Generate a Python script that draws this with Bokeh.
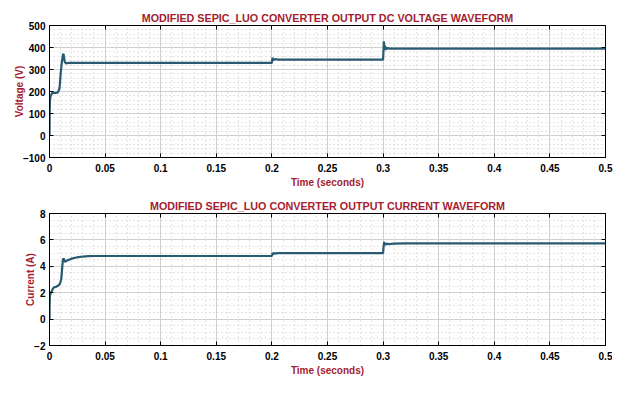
from bokeh.plotting import figure
from bokeh.models import Title, Range1d, FixedTicker, LinearAxis
from bokeh.layouts import column
from bokeh.embed import file_html
from bokeh.resources import INLINE

# ---- data ----
v_time = [0, 0.0002, 0.0005, 0.001, 0.002, 0.003, 0.005, 0.007, 0.008, 0.009,
          0.0095, 0.010, 0.011, 0.012, 0.0125, 0.013, 0.0135, 0.014, 0.015, 0.017,
          0.02, 0.2, 0.2003, 0.2006, 0.201, 0.2015, 0.202, 0.203, 0.205, 0.21,
          0.3, 0.3003, 0.3007, 0.301, 0.3015, 0.302, 0.3025, 0.303, 0.304, 0.306,
          0.31, 0.5]
v_volt = [0, 120, 165, 180, 190, 195, 193, 195, 200, 215,
          240, 280, 330, 365, 372, 360, 340, 332, 328, 330,
          330, 330, 345, 354, 340, 350, 343, 348, 345, 345,
          345, 380, 428, 395, 410, 388, 402, 392, 398, 395,
          395, 395]

i_time = [0, 0.0001, 0.0003, 0.0006, 0.001, 0.002, 0.003, 0.004, 0.006, 0.008,
          0.0095, 0.0105, 0.011, 0.0115, 0.012, 0.0125, 0.013, 0.0135, 0.014, 0.016,
          0.018, 0.02, 0.023, 0.026, 0.03, 0.035, 0.04, 0.05, 0.2, 0.2008,
          0.2015, 0.202, 0.203, 0.205, 0.3, 0.3005, 0.301, 0.3015, 0.302, 0.3025,
          0.303, 0.305, 0.31, 0.32, 0.5]
i_amp = [0, 1.0, 1.7, 1.85, 1.95, 2.1, 2.3, 2.4, 2.45, 2.55,
         2.7, 3.0, 3.4, 4.0, 4.45, 4.6, 4.55, 4.4, 4.35, 4.45,
         4.52, 4.58, 4.65, 4.7, 4.74, 4.77, 4.78, 4.78, 4.78, 5.02,
         4.92, 5.0, 4.96, 5.0, 5.0, 5.55, 5.85, 5.6, 5.75, 5.62,
         5.72, 5.68, 5.72, 5.73, 5.73]

x_ticks = [0, 0.05, 0.1, 0.15, 0.2, 0.25, 0.3, 0.35, 0.4, 0.45, 0.5]
x_tick_labels = {0: "0", 0.05: "0.05", 0.1: "0.1", 0.15: "0.15", 0.2: "0.2", 0.25: "0.25",
                 0.3: "0.3", 0.35: "0.35", 0.4: "0.4", 0.45: "0.45", 0.5: "0.5"}
v_ticks = [-100, 0, 100, 200, 300, 400, 500]
i_ticks = [-2, 0, 2, 4, 6, 8]

titles = ["MODIFIED SEPIC_LUO CONVERTER OUTPUT DC VOLTAGE WAVEFORM",
          "MODIFIED SEPIC_LUO CONVERTER OUTPUT CURRENT WAVEFORM"]
y_labels = ["Voltage (V)", "Current (A)"]
x_label = "Time (seconds)"

RED = "#A51C30"
LINE = "#285A72"
FONT = "Liberation Sans"


def make(tt, yy, ylo, yhi, yticks, ystep_minor, title, ylabel, top, bottom):
    p = figure(frame_width=556, frame_height=132, output_backend="svg", toolbar_location=None,
               x_range=Range1d(0, 0.5), y_range=Range1d(ylo, yhi),
               min_border_left=0, min_border_right=19, min_border_top=top,
               min_border_bottom=bottom)
    p.title = Title(text=title, align="center", text_color=RED, text_font=FONT,
                    text_font_size="10.75px", text_font_style="bold", standoff=4, offset=0)
    p.background_fill_color = "white"
    p.border_fill_color = "white"
    p.outline_line_color = "black"
    p.outline_line_width = 1

    p.line(tt, yy, line_color=LINE, line_width=2.2)

    xt = FixedTicker(ticks=x_ticks, minor_ticks=[i * 0.01 for i in range(51)])
    yt = FixedTicker(ticks=yticks,
                     minor_ticks=[ylo + k * ystep_minor for k in range(int(round((yhi - ylo) / ystep_minor)) + 1)])
    p.xaxis.ticker = xt
    p.xaxis.major_label_overrides = x_tick_labels
    p.yaxis.ticker = yt
    p.xaxis.axis_label = x_label
    p.yaxis.axis_label = ylabel
    for ax in (p.xaxis[0], p.yaxis[0]):
        ax.axis_label_text_color = RED
        ax.axis_label_text_font = FONT
        ax.axis_label_text_font_size = "10px"
        ax.axis_label_text_font_style = "bold"
        ax.major_label_text_font = FONT
        ax.major_label_text_font_size = "10px"
        ax.major_label_text_font_style = "bold"
        ax.major_label_text_color = "black"
        ax.major_tick_in = 4
        ax.major_tick_out = 0
        ax.minor_tick_in = 0
        ax.minor_tick_out = 0
        ax.major_tick_line_color = "black"
        ax.axis_line_color = "black"
        ax.major_label_standoff = 4
    p.yaxis.axis_label_standoff = -5
    p.xaxis.major_label_standoff = 6
    p.xaxis.axis_label_standoff = 2

    # inward tick marks on the top and right edges of the box (drawn as
    # minor ticks, so these axes carry no labels)
    for loc, tk in (("above", x_ticks), ("right", yticks)):
        ax = LinearAxis(ticker=FixedTicker(ticks=[], minor_ticks=tk),
                        major_tick_in=0, major_tick_out=0,
                        minor_tick_in=4, minor_tick_out=0,
                        minor_tick_line_color="black", axis_line_color=None,
                        major_label_standoff=0)
        p.add_layout(ax, loc)

    p.xgrid.grid_line_color = "#d0d0d0"
    p.ygrid.grid_line_color = "#d0d0d0"
    p.xgrid.minor_grid_line_color = "#c8c8c8"
    p.ygrid.minor_grid_line_color = "#c8c8c8"
    p.xgrid.minor_grid_line_dash = "1 3"
    p.ygrid.minor_grid_line_dash = "1 3"
    p.xgrid.minor_grid_line_width = 1
    p.ygrid.minor_grid_line_width = 1
    return p


p1 = make(v_time, v_volt, -100, 500, v_ticks, 20, titles[0], y_labels[0], 0, 38)
p2 = make(i_time, i_amp, -2, 8, i_ticks, 0.5, titles[1], y_labels[1], 0, 30)

layout = column(p1, p2, spacing=0, margin=(7, 0, 0, 10))
open("out.html", "w").write(file_html(layout, INLINE))
